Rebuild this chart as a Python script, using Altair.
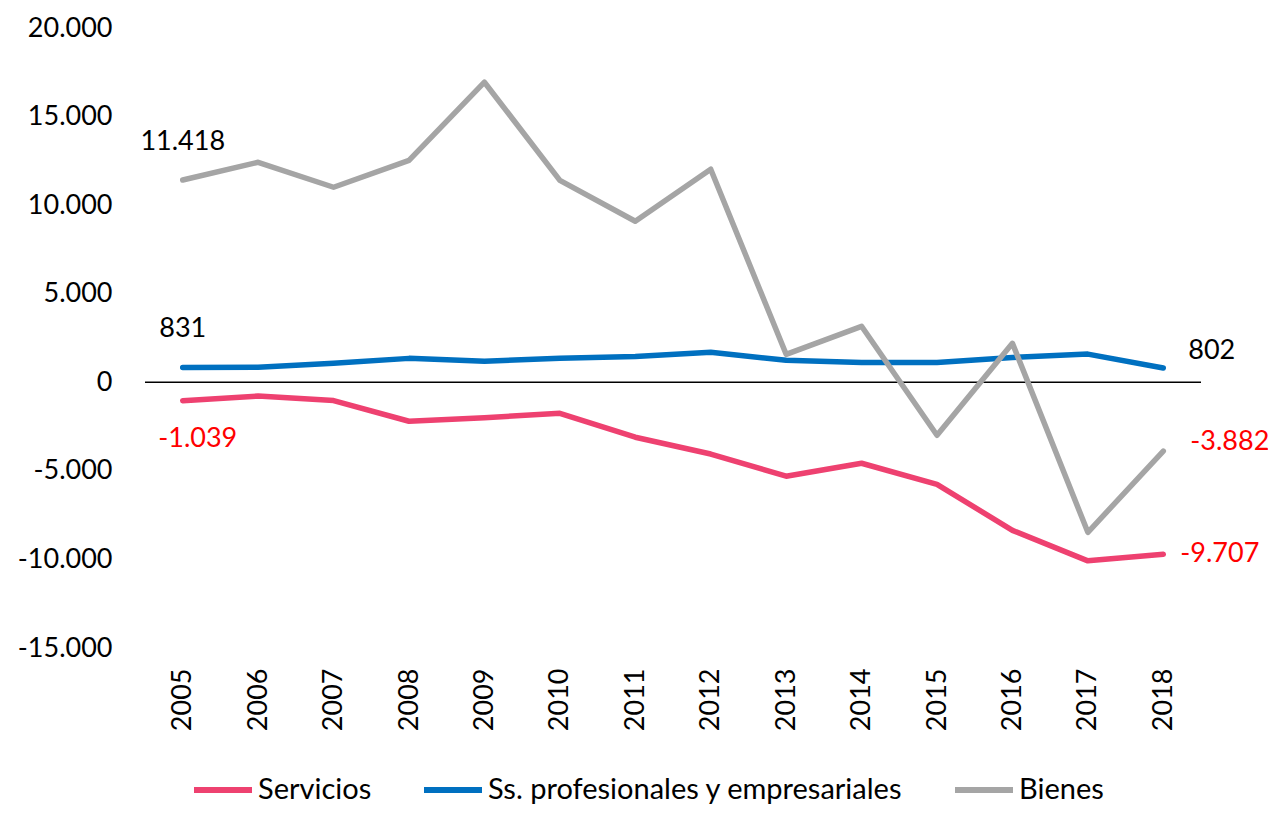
import altair as alt
import pandas as pd

years = list(range(2005, 2019))
servicios = [-1039, -780, -1030, -2200, -2000, -1750, -3100, -4050, -5300, -4570, -5760, -8360, -10080, -9707]
profesionales = [831, 850, 1080, 1350, 1190, 1350, 1460, 1690, 1240, 1120, 1120, 1400, 1590, 802]
bienes = [11418, 12420, 11010, 12530, 16940, 11400, 9090, 12030, 1580, 3160, -2990, 2200, -8470, -3882]

series_names = ["Servicios", "Ss. profesionales y empresariales", "Bienes"]
colors = ["#EE4170", "#0070C0", "#A5A5A5"]
y_ticks = [-15000, -10000, -5000, 0, 5000, 10000, 15000, 20000]

rows = []
for name, vals in zip(series_names, [servicios, profesionales, bienes]):
    for yr, v in zip(years, vals):
        rows.append({"year": str(yr), "series": name, "value": v})
df = pd.DataFrame(rows)


def fmt(v):
    return f"{v:,}".replace(",", ".")


df["label"] = df["value"].map(fmt)

FONT = "Lato"
FS = 27

x_enc = alt.X(
    "year:O",
    scale=alt.Scale(type="point", padding=0.5),
    axis=alt.Axis(
        title=None, labelAngle=270, labelPadding=20, domain=False, ticks=False,
        labelFontSize=FS, labelFont=FONT, labelColor="black", grid=False,
    ),
)
y_enc = alt.Y(
    "value:Q",
    scale=alt.Scale(domain=[-15000, 20000], nice=False, zero=False),
    axis=alt.Axis(
        title=None, values=y_ticks, grid=False, domain=False, ticks=False,
        labelPadding=33, labelFontSize=FS, labelFont=FONT, labelColor="black",
        labelExpr="datum.value < 0 ? '-' + replace(format(-datum.value, ',d'), ',', '.') : replace(format(datum.value, ',d'), ',', '.')",
    ),
)

zero = alt.Chart(pd.DataFrame({"zero": [0]})).mark_rule(color="black", strokeWidth=1.5).encode(y="zero:Q")

lines = alt.Chart(df).mark_line(strokeWidth=5.5, strokeCap="round", strokeJoin="round").encode(
    x=x_enc,
    y=y_enc,
    color=alt.Color(
        "series:N",
        scale=alt.Scale(domain=series_names, range=colors),
        legend=alt.Legend(
            title=None, orient="none", legendX=46, legendY=730, direction="horizontal",
            symbolType="stroke", symbolSize=3364, symbolStrokeWidth=6,
            labelFontSize=29, labelFont=FONT, labelColor="black", labelLimit=0,
            columnPadding=40, labelOffset=3,
        ),
    ),
)


def label_layer(series, year, color, dx, dy, align):
    sub = df[(df["series"] == series) & (df["year"] == str(year))]
    return alt.Chart(sub).mark_text(
        font=FONT, fontSize=FS, color=color, dx=dx, dy=dy, align=align, baseline="middle"
    ).encode(x=alt.X("year:O"), y=alt.Y("value:Q"), text="label:N")


labels = [
    label_layer("Bienes", 2005, "black", 0, -38, "center"),
    label_layer("Ss. profesionales y empresariales", 2005, "black", 0, -39, "center"),
    label_layer("Servicios", 2005, "#FF0000", 15, 38, "center"),
    label_layer("Ss. profesionales y empresariales", 2018, "black", 25, -17, "left"),
    label_layer("Bienes", 2018, "#FF0000", 27, -9, "left"),
    label_layer("Servicios", 2018, "#FF0000", 17, 0, "left"),
]

chart = alt.layer(zero, lines, *labels).properties(
    width=1056,
    height=620,
    autosize=alt.AutoSizeParams(type="none"),
    padding={"left": 137, "top": 20, "right": 67, "bottom": 161},
    background="white",
).configure_view(stroke=None)

chart.save("out.html", embed_options={"renderer": "svg", "actions": False})
